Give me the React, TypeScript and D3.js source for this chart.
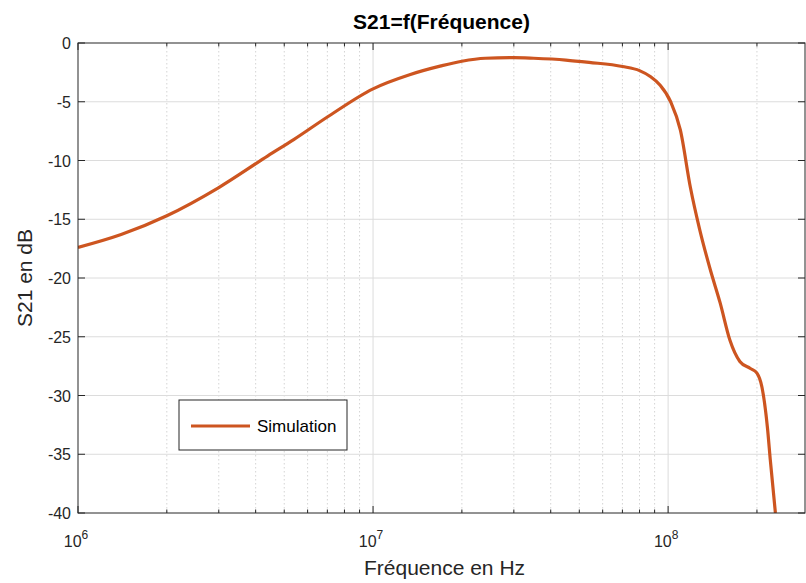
import React, { useEffect, useRef } from 'react';
import * as d3 from 'd3';

// frequency points (Hz) and S21 (dB)
const freqs = [
  1e6, 1.4e6, 2e6, 3e6, 4.4e6, 5.4e6, 7e6, 1e7, 1.33e7, 1.7e7, 2e7, 2.4e7, 3e7,
  3.5e7, 4.5e7, 5.4e7, 7e7, 8e7, 8.7e7, 9.4e7, 1.02e8, 1.1e8, 1.19e8, 1.28e8,
  1.39e8, 1.5e8, 1.62e8, 1.75e8, 1.9e8, 2e8, 2.08e8, 2.17e8, 2.22e8, 2.31e8,
];
const s21 = [
  -17.4, -16.3, -14.7, -12.3, -9.6, -8.2, -6.3, -3.9, -2.7, -1.95, -1.55, -1.3, -1.25,
  -1.3, -1.45, -1.65, -2.0, -2.35, -2.85, -3.6, -5.0, -7.4, -12.3, -15.9,
  -19.3, -22.1, -25.3, -27.1, -27.7, -28.1, -29.3, -32.7, -35.5, -40,
];
const yTicks = [0, -5, -10, -15, -20, -25, -30, -35, -40];
const xMajor = [1e6, 1e7, 1e8];
const xMax = 2.91e8;
const seriesName = 'Simulation';

const App: React.FC = () => {
  const svgRef = useRef<SVGSVGElement | null>(null);

  useEffect(() => {
    if (!svgRef.current) return;
    document.body.style.margin = '0';

    const width = 806;
    const height = 583;
    const margin = { top: 43, right: 1, bottom: 70, left: 78 };
    const axisColor = '#262626';
    const lineColor = '#cd5520';
    const font = 'Liberation Sans, Arial, sans-serif';

    const svg = d3.select(svgRef.current).attr('width', width).attr('height', height);
    svg.selectAll('*').remove();

    const x = d3.scaleLog().domain([1e6, xMax]).range([margin.left, width - margin.right]);
    const y = d3.scaleLinear().domain([-40, 0]).range([height - margin.bottom, margin.top]);
    const [x0, x1] = x.range();
    const [y0, y1] = y.range();

    svg.append('rect').attr('width', width).attr('height', height).attr('fill', '#fff');

    // minor grid (dotted)
    const minor: number[] = [];
    [1e6, 1e7, 1e8].forEach((d) => {
      for (let k = 2; k <= 9; k++) if (d * k < xMax) minor.push(d * k);
    });
    svg.append('g').selectAll('line').data(minor).enter().append('line')
      .attr('x1', (d) => x(d)).attr('x2', (d) => x(d))
      .attr('y1', y1).attr('y2', y0)
      .attr('stroke', '#d4d4d4').attr('stroke-width', 1).attr('stroke-dasharray', '1.5,2.5');

    // major grid
    const grid = svg.append('g');
    grid.selectAll('line.v').data(xMajor.slice(1)).enter().append('line')
      .attr('x1', (d) => x(d)).attr('x2', (d) => x(d))
      .attr('y1', y1).attr('y2', y0)
      .attr('stroke', '#dcdcdc').attr('stroke-width', 1);
    grid.selectAll('line.h').data(yTicks.slice(1, -1)).enter().append('line')
      .attr('x1', x0).attr('x2', x1)
      .attr('y1', (d) => y(d)).attr('y2', (d) => y(d))
      .attr('stroke', '#dcdcdc').attr('stroke-width', 1);

    // curve
    svg.append('clipPath').attr('id', 'plotclip').append('rect')
      .attr('x', x0).attr('y', y1).attr('width', x1 - x0).attr('height', y0 - y1);
    const line = d3.line<number>()
      .x((d, i) => x(freqs[i]))
      .y((d) => y(d))
      .curve(d3.curveMonotoneX);
    svg.append('path').datum(s21)
      .attr('d', line)
      .attr('clip-path', 'url(#plotclip)')
      .attr('fill', 'none')
      .attr('stroke', lineColor)
      .attr('stroke-width', 3.2)
      .attr('stroke-linejoin', 'round');

    // axes box and ticks
    const ax = svg.append('g').attr('stroke', axisColor).attr('stroke-width', 1).attr('fill', 'none');
    ax.append('rect').attr('x', x0).attr('y', y1).attr('width', x1 - x0).attr('height', y0 - y1);
    xMajor.forEach((d) => {
      ax.append('line').attr('x1', x(d)).attr('x2', x(d)).attr('y1', y0).attr('y2', y0 - 7);
      ax.append('line').attr('x1', x(d)).attr('x2', x(d)).attr('y1', y1).attr('y2', y1 + 7);
    });
    minor.forEach((d) => {
      ax.append('line').attr('x1', x(d)).attr('x2', x(d)).attr('y1', y0).attr('y2', y0 - 3.5);
      ax.append('line').attr('x1', x(d)).attr('x2', x(d)).attr('y1', y1).attr('y2', y1 + 3.5);
    });
    yTicks.forEach((d) => {
      ax.append('line').attr('x1', x0).attr('x2', x0 + 7).attr('y1', y(d)).attr('y2', y(d));
      ax.append('line').attr('x1', x1).attr('x2', x1 - 7).attr('y1', y(d)).attr('y2', y(d));
    });

    // tick labels
    svg.append('g').selectAll('text').data(yTicks).enter().append('text')
      .attr('x', x0 - 7).attr('y', (d) => y(d) + 6)
      .attr('text-anchor', 'end')
      .attr('font-family', font).attr('font-size', 16).attr('fill', axisColor)
      .text((d) => String(d));

    const xl = svg.append('g');
    xMajor.forEach((d) => {
      const t = xl.append('text')
        .attr('x', x(d) - 2).attr('y', y0 + 34)
        .attr('text-anchor', 'middle')
        .attr('font-family', font).attr('font-size', 16).attr('fill', axisColor);
      t.append('tspan').text('10');
      t.append('tspan').attr('dy', -8).attr('font-size', 12).text(String(Math.round(Math.log10(d))));
    });

    // titles
    svg.append('text')
      .attr('x', (x0 + x1) / 2).attr('y', 29)
      .attr('text-anchor', 'middle')
      .attr('font-family', font).attr('font-size', 21).attr('font-weight', 'bold').attr('fill', '#000')
      .text('S21=f(Fréquence)');
    svg.append('text')
      .attr('x', (x0 + x1) / 2 + 3).attr('y', 575)
      .attr('text-anchor', 'middle')
      .attr('font-family', font).attr('font-size', 21).attr('fill', axisColor)
      .text('Fréquence en Hz');
    svg.append('text')
      .attr('transform', `translate(32, ${(y0 + y1) / 2}) rotate(-90)`)
      .attr('text-anchor', 'middle')
      .attr('font-family', font).attr('font-size', 21).attr('fill', axisColor)
      .text('S21 en dB');

    // legend
    const lg = svg.append('g').attr('transform', 'translate(179, 400)');
    lg.append('rect').attr('width', 168).attr('height', 50)
      .attr('fill', '#fff').attr('stroke', axisColor).attr('stroke-width', 1);
    lg.append('line').attr('x1', 12).attr('x2', 71).attr('y1', 26).attr('y2', 26)
      .attr('stroke', lineColor).attr('stroke-width', 3.2);
    lg.append('text').attr('x', 78).attr('y', 32)
      .attr('font-family', font).attr('font-size', 17).attr('fill', '#000')
      .text(seriesName);
  }, []);

  return <svg ref={svgRef}></svg>;
};

export default App;
